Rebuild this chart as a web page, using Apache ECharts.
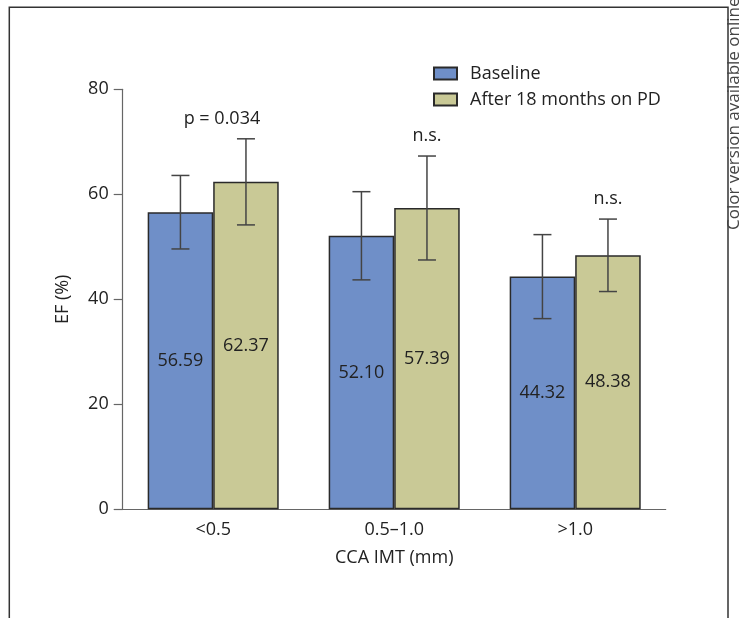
<!DOCTYPE html>
<html>
<head>
<meta charset="utf-8">
<script src="https://cdn.jsdelivr.net/npm/echarts@6/dist/echarts.min.js"></script>
<style>
  html, body { margin: 0; padding: 0; background: #fff; }
  #chart { width: 740px; height: 618px; }
</style>
</head>
<body>
<div id="chart"></div>
<script>
// data
var categories = ['<0.5', '0.5\u20131.0', '>1.0']
var baselineMean = [56.59, 52.10, 44.32]
var baselineErr = [7.0, 8.4, 8.0]
var followupMean = [62.37, 57.39, 48.38]
var followupErr = [8.2, 9.9, 6.9]
var annotations = ['p = 0.034', 'n.s.', 'n.s.']
var yTicks = [0, 20, 40, 60, 80]

var FONT = '"Open Sans", "Noto Sans", sans-serif'
var FS = 18
var GAP = 0.276 // barCategoryGap as a ratio

function errData(mean, err) {
  return mean.map(function(m, i) { return [i, m - err[i], m + err[i]] })
}

function errRender(side, withNote) {
  return function(params, api) {
    var i = api.value(0)
    var band = api.size([1, 0])[0]
    var barW = band * (1 - GAP) / 2
    var lo = api.coord([i, api.value(1)])
    var hi = api.coord([i, api.value(2)])
    var cx = lo[0] + side * barW / 2
    var style = { stroke: '#444', lineWidth: 1.5 }
    var kids = [
      { type: 'line', shape: { x1: cx, y1: hi[1], x2: cx, y2: lo[1] }, style: style },
      { type: 'line', shape: { x1: cx - 9, y1: hi[1], x2: cx + 9, y2: hi[1] }, style: style },
      { type: 'line', shape: { x1: cx - 9, y1: lo[1], x2: cx + 9, y2: lo[1] }, style: style }
    ]
    if (withNote) {
      var txt = annotations[i]
      var dx = txt.length > 4 ? -24 : 0 // the p-value label sits left of the bar
      kids.push({
        type: 'text',
        style: {
          text: txt, x: cx + dx, y: hi[1] - 20,
          align: 'center', verticalAlign: 'middle',
          fill: '#222', fontSize: FS, fontFamily: FONT
        }
      })
    }
    return { type: 'group', children: kids }
  }
}

var chart = echarts.init(document.getElementById('chart'))
chart.setOption({
  animation: false,
  backgroundColor: '#fff',
  textStyle: { fontFamily: FONT },
  grid: { left: 122.7, right: 74.3, top: 89.3, bottom: 108.7 },
  legend: {
    orient: 'vertical',
    left: 433,
    top: 63,
    padding: 0,
    itemWidth: 23,
    itemHeight: 12,
    itemGap: 5,
    icon: 'rect',
    data: ['Baseline', 'After 18 months on PD'],
    textStyle: { fontSize: FS, color: '#222', lineHeight: 21, padding: [0, 0, 0, 8], fontFamily: FONT }
  },
  xAxis: {
    type: 'category',
    data: categories,
    name: 'CCA IMT (mm)',
    nameLocation: 'middle',
    nameGap: 40,
    nameTextStyle: { fontSize: FS, color: '#222', fontFamily: FONT },
    axisLine: { lineStyle: { color: '#666', width: 1.2 } },
    axisTick: { length: 8, lineStyle: { color: '#666', width: 1.2 } },
    axisLabel: { fontSize: FS, color: '#222', margin: 12, fontFamily: FONT }
  },
  yAxis: {
    type: 'value',
    min: yTicks[0],
    max: yTicks[yTicks.length - 1],
    interval: yTicks[1] - yTicks[0],
    name: 'EF (%)',
    nameLocation: 'middle',
    nameGap: 51,
    nameRotate: 90,
    nameTextStyle: { fontSize: FS, color: '#222', fontFamily: FONT },
    splitLine: { show: false },
    axisLine: { show: true, lineStyle: { color: '#666', width: 1.2 } },
    axisTick: { show: true, length: 9, lineStyle: { color: '#666', width: 1.2 } },
    axisLabel: { fontSize: FS, color: '#222', margin: 14, fontFamily: FONT }
  },
  series: [
    {
      name: 'Baseline',
      type: 'bar',
      data: baselineMean,
      barGap: '0%',
      barCategoryGap: (GAP * 100) + '%',
      itemStyle: { color: '#6f8fc8', borderColor: '#2a2a2a', borderWidth: 1.5 },
      label: {
        show: true, position: 'inside', color: '#222', fontSize: FS, fontFamily: FONT,
        formatter: function(p) { return p.value.toFixed(2) }
      }
    },
    {
      name: 'After 18 months on PD',
      type: 'bar',
      data: followupMean,
      itemStyle: { color: '#c9c996', borderColor: '#2a2a2a', borderWidth: 1.5 },
      label: {
        show: true, position: 'inside', color: '#222', fontSize: FS, fontFamily: FONT,
        formatter: function(p) { return p.value.toFixed(2) }
      }
    },
    {
      type: 'custom',
      z: 5,
      renderItem: errRender(-1, false),
      encode: { x: 0, y: [1, 2] },
      data: errData(baselineMean, baselineErr)
    },
    {
      type: 'custom',
      z: 5,
      renderItem: errRender(1, true),
      encode: { x: 0, y: [1, 2] },
      data: errData(followupMean, followupErr)
    }
  ],
  graphic: [
    {
      type: 'polyline',
      shape: { points: [[9.3, 640], [9.3, 7.3], [728, 7.3], [728, 640]] },
      style: { stroke: '#333', lineWidth: 1.5, fill: null }
    },
    {
      type: 'text',
      x: 743, y: 230, rotation: Math.PI / 2,
      style: { text: 'Color version available online', fill: '#444', fontSize: 17, fontFamily: FONT, align: 'left', verticalAlign: 'bottom' }
    }
  ]
})
</script>
</body>
</html>
